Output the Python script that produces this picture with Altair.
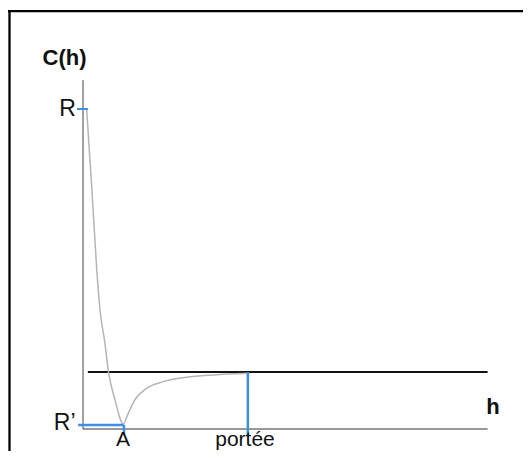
import altair as alt
import pandas as pd

# ---- data (h in abstract units, C(h) with R = 1) ----
curve_h = [0.09, 0.22, 0.34, 0.42, 0.54, 0.63, 0.79, 1.00, 1.08, 1.28, 1.57, 1.98, 2.56, 3.22, 4.04]
curve_c = [1.000, 0.747, 0.497, 0.372, 0.269, 0.178, 0.091, 0.015, 0.038, 0.091, 0.127, 0.148, 0.162, 0.169, 0.174]

R_VAL = 1.0        # C(0)
R_PRIME = 0.0125   # minimum value R'
A_VAL = 1.01       # h at the minimum
PORTEE = 4.07      # range
SILL = 0.178       # sill level
H_END = 9.99       # end of the h axis
C_TOP = 1.09       # top of the C axis

label_text = ["C(h)", "R", "R\u2019", "A", "port\u00e9e", "h"]

# ---- scales ----
X_DOM = [-1.852, 10.864]
Y_DOM = [-0.06875, 1.315625]
BLUE = "#3d8fe6"

xs = alt.Scale(domain=X_DOM, nice=False, zero=False)
ys = alt.Scale(domain=Y_DOM, nice=False, zero=False)

segments = pd.DataFrame([
    # frame (left and top)
    dict(x=-1.815, y=-0.07, x2=-1.815, y2=1.309, c="#000000", w=2.3),
    dict(x=-1.852, y=1.306, x2=10.864, y2=1.306, c="#000000", w=2.3),
    # axes
    dict(x=0.0, y=0.0, x2=0.0, y2=C_TOP, c="#444444", w=1.0),
    dict(x=0.0, y=0.0, x2=H_END, y2=0.0, c="#333333", w=1.0),
    # sill
    dict(x=0.12, y=SILL, x2=H_END, y2=SILL, c="#111111", w=2.0),
])
blue_segments = pd.DataFrame([
    dict(x=-0.15, y=R_VAL, x2=0.12, y2=R_VAL, c=BLUE, w=2.0),
    dict(x=-0.12, y=R_PRIME, x2=A_VAL, y2=R_PRIME, c=BLUE, w=2.5),
    dict(x=A_VAL, y=R_PRIME, x2=A_VAL, y2=-0.016, c=BLUE, w=2.5),
    dict(x=PORTEE, y=SILL, x2=PORTEE, y2=-0.019, c=BLUE, w=2.5),
])


def seg_layer(df):
    return alt.Chart(df).mark_rule(strokeCap="butt").encode(
        x=alt.X("x:Q", scale=xs, axis=None),
        y=alt.Y("y:Q", scale=ys, axis=None),
        x2="x2:Q",
        y2="y2:Q",
        color=alt.Color("c:N", scale=None),
        strokeWidth=alt.StrokeWidth("w:Q", scale=None),
    )


curve_df = pd.DataFrame({"h": curve_h, "c": curve_c})
curve = alt.Chart(curve_df).mark_line(
    color="#b5b5b5", strokeWidth=1.5, interpolate="monotone"
).encode(
    x=alt.X("h:Q", scale=xs, axis=None),
    y=alt.Y("c:Q", scale=ys, axis=None),
)

FONT = "Liberation Sans"


def text_layer(rows, align, baseline, size, weight):
    df = pd.DataFrame(rows)
    return alt.Chart(df).mark_text(
        align=align, baseline=baseline, fontSize=size, fontWeight=weight,
        font=FONT, color="#111111"
    ).encode(
        x=alt.X("x:Q", scale=xs, axis=None),
        y=alt.Y("y:Q", scale=ys, axis=None),
        text="t:N",
    )


t_title = text_layer([dict(x=-0.457, y=1.159, t=label_text[0])], "center", "middle", 22, "bold")
t_left = text_layer([
    dict(x=-0.173, y=R_VAL, t=label_text[1]),
    dict(x=-0.185, y=0.019, t=label_text[2]),
], "right", "middle", 23, "normal")
t_bottom = text_layer([
    dict(x=0.988, y=-0.053, t=label_text[3]),
    dict(x=4.0, y=-0.053, t=label_text[4]),
], "center", "alphabetic", 21, "normal")
t_h = text_layer([dict(x=10.12, y=0.047, t=label_text[5])], "center", "alphabetic", 22, "bold")

chart = alt.layer(
    seg_layer(segments), curve, seg_layer(blue_segments),
    t_title, t_left, t_bottom, t_h
).properties(
    width=515, height=443, padding=0, autosize=alt.AutoSizeParams(type="none"),
    background="white",
).configure_view(stroke=None)

chart.save("out.html", embed_options={"renderer": "svg", "actions": False})
